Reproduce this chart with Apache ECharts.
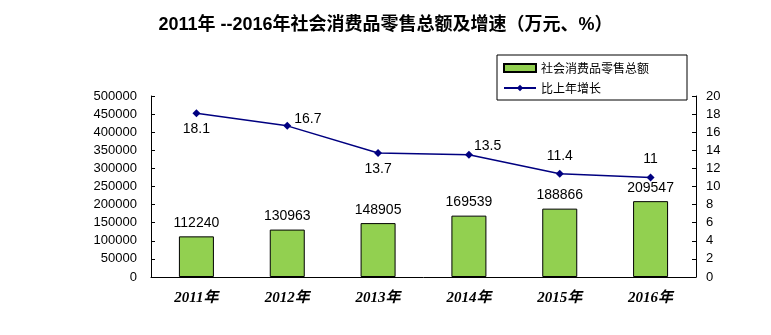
<!DOCTYPE html>
<html><head><meta charset="utf-8">
<script src="https://cdn.jsdelivr.net/npm/echarts@6/dist/echarts.min.js"></script>
<style>html,body{margin:0;padding:0;background:#fff}#c{width:771px;height:335px}</style>
</head><body><div id="c"></div>
<script>
const categories = ['2011年','2012年','2013年','2014年','2015年','2016年'];
const salesTotal = [112240,130963,148905,169539,188866,209547];
const growthRate = [18.1,16.7,13.7,13.5,11.4,11];
const leftTicks = {min:0,max:500000,interval:50000};
const rightTicks = {min:0,max:20,interval:2};
const lineLabelPos = [
  {position:'bottom',offset:[0,0]},
  {position:'right',offset:[-2,-7]},
  {position:'bottom',offset:[0,0]},
  {position:'right',offset:[-4,-9]},
  {position:'top',offset:[0,-2]},
  {position:'top',offset:[0,-2]}
];
const font = '"Liberation Sans", Arial, "Noto Sans CJK SC", sans-serif';
const chart = echarts.init(document.getElementById('c'));
chart.setOption({
  animation:false,
  textStyle:{fontFamily:font},
  title:{text:'2011年 --2016年社会消费品零售总额及增速（万元、%）',left:'center',top:11,
    textStyle:{fontSize:18,fontWeight:'bold',color:'#000',fontFamily:'"Liberation Sans", "Noto Sans CJK SC", sans-serif'}},
  legend:{orient:'vertical',left:497,top:55,itemWidth:32,itemHeight:8,itemGap:8,
    padding:[7,38,6,6],borderColor:'#000',borderWidth:1,
    textStyle:{fontSize:12,color:'#000',fontFamily:'"Noto Sans CJK SC", sans-serif'},
    data:[{name:'社会消费品零售总额',icon:'rect'},{name:'比上年增长'}]},
  grid:{left:151,right:75,top:96,bottom:58},
  xAxis:{type:'category',data:categories,boundaryGap:true,
    axisLine:{lineStyle:{color:'#000',width:1}},
    axisTick:{inside:true,length:4,lineStyle:{color:'#000'}},
    axisLabel:{margin:14,fontSize:15,fontWeight:'bold',fontStyle:'italic',color:'#000',fontFamily:'"Liberation Serif", "Noto Sans CJK SC", serif'}},
  yAxis:[
    {type:'value',min:leftTicks.min,max:leftTicks.max,interval:leftTicks.interval,
     axisLine:{show:true,lineStyle:{color:'#000'}},axisTick:{show:true,inside:true,length:4,lineStyle:{color:'#000'}},
     splitLine:{show:false},axisLabel:{fontSize:13,color:'#000',margin:14,formatter:v=>String(v)}},
    {type:'value',min:rightTicks.min,max:rightTicks.max,interval:rightTicks.interval,position:'right',
     axisLine:{show:true,lineStyle:{color:'#000'}},axisTick:{show:true,inside:true,length:4,lineStyle:{color:'#000'}},
     splitLine:{show:false},axisLabel:{fontSize:13,color:'#000',margin:10}}
  ],
  series:[
    {name:'社会消费品零售总额',type:'bar',yAxisIndex:0,data:salesTotal,barWidth:35,
     itemStyle:{color:'#92D050',borderColor:'#000',borderWidth:1},
     label:{show:true,position:'top',distance:6,fontSize:14,color:'#000'}},
    {name:'比上年增长',type:'line',yAxisIndex:1,
     data:growthRate.map((v,i)=>({value:v,label:lineLabelPos[i]})),
     symbol:'diamond',symbolSize:8,
     lineStyle:{color:'#000080',width:1.5},itemStyle:{color:'#000080'},
     label:{show:true,fontSize:14,color:'#000',distance:5}}
  ]
});
</script></body></html>
